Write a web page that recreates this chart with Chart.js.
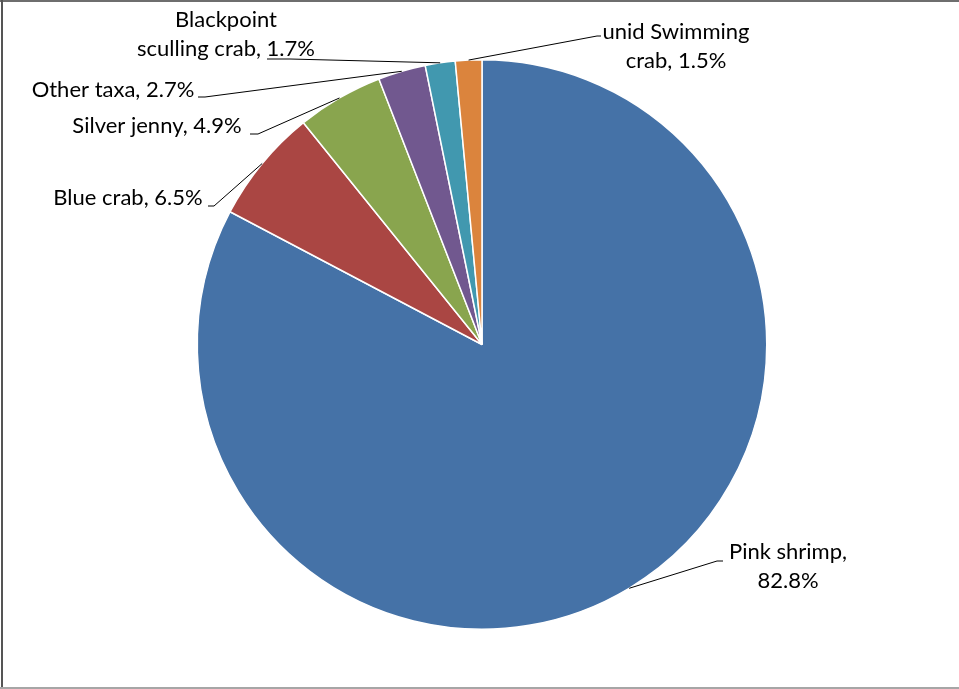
<!DOCTYPE html>
<html>
<head>
<meta charset="utf-8">
<script src="https://cdn.jsdelivr.net/npm/chart.js@4.4.1/dist/chart.umd.min.js"></script>
<style>
  html, body { margin: 0; padding: 0; background: #ffffff; }
  #wrap { width: 959px; height: 689px; position: relative; }
</style>
</head>
<body>
<div id="wrap"><canvas id="pie" width="959" height="689"></canvas></div>
<script>
// Catch composition by taxon (percent of total)
const categories = ["Pink shrimp", "Blue crab", "Silver jenny", "Other taxa", "Blackpoint sculling crab", "unid Swimming crab"];
const shares = [82.8, 6.5, 4.9, 2.7, 1.7, 1.5];
const sliceColors = ["#4572A7", "#AA4643", "#89A54E", "#71588F", "#4198AF", "#DB843D"];
// word index after which each label wraps to a second line (0 = single line)
const wrapAfter = [2, 0, 0, 0, 1, 2];

// Placement of each data label: text centre x, first baseline y,
// and the leader's start point plus the x where it bends toward the slice
const labelLayout = [
  { x: 788, y: 559, lx: 723, ly: 561, bx: 717 },
  { x: 128, y: 205, lx: 208, ly: 206, bx: 214 },
  { x: 157, y: 133, lx: 250, ly: 134, bx: 258 },
  { x: 113, y: 97,  lx: 198, ly: 97,  bx: 205 },
  { x: 226, y: 27,  lx: 267, ly: 59,  bx: 290 },
  { x: 676, y: 39,  lx: 601, ly: 36,  bx: 597 }
];
const LABEL_FONT = '22px Lato, "Open Sans", sans-serif';
const LINE_HEIGHT = 29;

function labelLines(i) {
  const words = (categories[i] + ", " + shares[i].toFixed(1) + "%").split(" ");
  const n = wrapAfter[i];
  if (!n) return [words.join(" ")];
  return [words.slice(0, n).join(" "), words.slice(n).join(" ")];
}

const pieLabels = {
  id: "pieLabels",
  afterDatasetsDraw(chart) {
    const ctx = chart.ctx;
    const arcs = chart.getDatasetMeta(0).data;
    ctx.save();
    arcs.forEach((arc, i) => {
      const p = arc.getProps(["x", "y", "startAngle", "endAngle", "outerRadius"], true);
      const mid = (p.startAngle + p.endAngle) / 2;
      const ex = p.x + Math.cos(mid) * p.outerRadius;
      const ey = p.y + Math.sin(mid) * p.outerRadius;
      const L = labelLayout[i];
      ctx.strokeStyle = "#000000";
      ctx.lineWidth = 1;
      ctx.beginPath();
      ctx.moveTo(L.lx, L.ly);
      ctx.lineTo(L.bx, L.ly);
      ctx.lineTo(ex, ey);
      ctx.stroke();
      ctx.fillStyle = "#000000";
      ctx.font = LABEL_FONT;
      ctx.textAlign = "center";
      ctx.textBaseline = "alphabetic";
      labelLines(i).forEach((t, k) => ctx.fillText(t, L.x, L.y + k * LINE_HEIGHT));
    });
    ctx.restore();
  },
  afterDraw(chart) {
    const ctx = chart.ctx;
    ctx.save();
    ctx.fillStyle = "#6e6e6e";
    ctx.fillRect(0, 0, 959, 2);
    ctx.fillStyle = "#555555";
    ctx.fillRect(1, 0, 2, 689);
    ctx.fillStyle = "#a6a6a6";
    ctx.fillRect(0, 687, 959, 2);
    ctx.restore();
  }
};

new Chart(document.getElementById("pie"), {
  type: "pie",
  data: {
    labels: categories,
    datasets: [{
      data: shares,
      backgroundColor: sliceColors,
      borderColor: "#ffffff",
      borderWidth: 1.5
    }]
  },
  options: {
    responsive: false,
    animation: false,
    layout: { padding: { top: 59, bottom: 59, left: 196, right: 191 } },
    plugins: {
      legend: { display: false },
      tooltip: { enabled: false }
    }
  },
  plugins: [pieLabels]
});
</script>
</body>
</html>
